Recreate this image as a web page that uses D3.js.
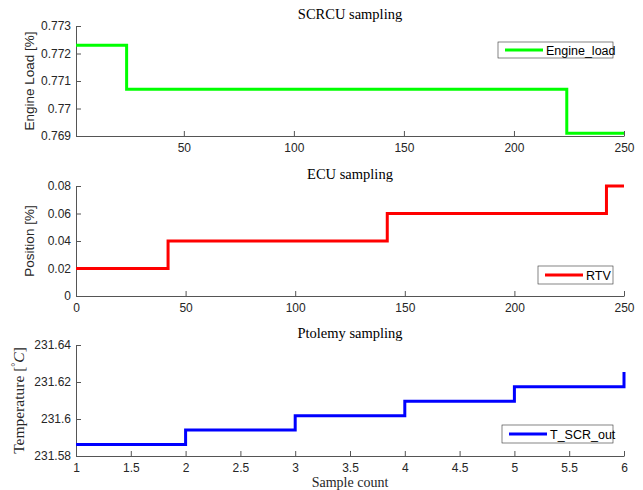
<!DOCTYPE html>
<html lang="en">
<head>
<meta charset="UTF-8">
<script src="https://cdn.jsdelivr.net/npm/d3@7"></script>
<title>Sampling</title>
<style>
    body { margin: 0; background: white; }
    .tick text { font-family: 'Liberation Sans', Arial, sans-serif; font-size: 12px; fill: #262626; }
    .domain, .tick line { stroke: #555; }
    .title { font-family: 'Liberation Serif', 'DejaVu Serif', serif; font-size: 14.5px; fill: #000; }
    .xlab { font-family: 'Liberation Serif', 'DejaVu Serif', serif; font-size: 14px; fill: #262626; }
    .ylab { font-family: 'Liberation Sans', Arial, sans-serif; font-size: 13.5px; fill: #262626; }
    .ylab-serif { font-family: 'Liberation Serif', serif; font-size: 15.5px; fill: #262626; }
    .legend text { font-family: 'Liberation Sans', Arial, sans-serif; font-size: 12.5px; fill: #000; }
</style>
</head>
<body>
<div id="chart"></div>
<script>
    // SCRCU sampling
    const engineX = [1, 24, 224, 250];
    const engineY = [0.7723, 0.7707, 0.7691, 0.7691];
    const engineTicksX = [50, 100, 150, 200, 250];
    const engineTicksY = [0.769, 0.77, 0.771, 0.772, 0.773];

    // ECU sampling
    const rtvX = [0, 42, 142, 242, 250];
    const rtvY = [0.02, 0.04, 0.06, 0.08, 0.08];
    const rtvTicksX = [0, 50, 100, 150, 200, 250];
    const rtvTicksY = [0, 0.02, 0.04, 0.06, 0.08];

    // Ptolemy sampling
    const tempX = [1, 2, 3, 4, 5, 6];
    const tempY = [231.5862, 231.594, 231.6018, 231.6096, 231.6174, 231.6254];
    const tempTicksX = [1, 1.5, 2, 2.5, 3, 3.5, 4, 4.5, 5, 5.5, 6];
    const tempTicksY = [231.58, 231.6, 231.62, 231.64];

    const width = 643, height = 490;
    const left = 76, right = 624;

    const svg = d3.select("#chart").append("svg")
        .attr("width", width)
        .attr("height", height);
    svg.append("rect").attr("width", width).attr("height", height).attr("fill", "white");

    const panels = [
        { title: "SCRCU sampling", top: 26, bottom: 136, xs: engineX, ys: engineY,
          xDom: [1, 250], yDom: [0.769, 0.773], tx: engineTicksX, ty: engineTicksY,
          color: "#00ff00", name: "Engine_load", ylab: "Engine Load [%]", legend: [498, 42, 115, 16] },
        { title: "ECU sampling", top: 186, bottom: 296, xs: rtvX, ys: rtvY,
          xDom: [0, 250], yDom: [0, 0.08], tx: rtvTicksX, ty: rtvTicksY,
          color: "#ff0000", name: "RTV", ylab: "Position [%]", legend: [538, 266, 75, 18] },
        { title: "Ptolemy sampling", top: 345, bottom: 456, xs: tempX, ys: tempY,
          xDom: [1, 6], yDom: [231.58, 231.64], tx: tempTicksX, ty: tempTicksY,
          color: "#0000ff", name: "T_SCR_out", ylab: null, legend: [502, 425, 111, 18] }
    ];

    panels.forEach((p, i) => {
        const x = d3.scaleLinear().domain(p.xDom).range([left, right]);
        const y = d3.scaleLinear().domain(p.yDom).range([p.bottom, p.top]);

        svg.append("g")
            .attr("transform", `translate(0,${p.bottom})`)
            .call(d3.axisBottom(x).tickValues(p.tx).tickSize(-5).tickSizeOuter(0).tickPadding(7)
                .tickFormat(d3.format("")));
        svg.append("g")
            .attr("transform", `translate(${left},0)`)
            .call(d3.axisLeft(y).tickValues(p.ty).tickSize(-5).tickSizeOuter(0).tickPadding(5)
                .tickFormat(d => +d.toFixed(4) + ""));

        const pts = p.xs.map((v, k) => [v, p.ys[k]]);
        svg.append("path")
            .datum(pts)
            .attr("fill", "none")
            .attr("stroke", p.color)
            .attr("stroke-width", 3)
            .attr("d", d3.line().x(d => x(d[0])).y(d => y(d[1])).curve(d3.curveStepAfter));

        svg.append("text").attr("class", "title")
            .attr("x", 350).attr("y", p.top - 7)
            .attr("text-anchor", "middle").text(p.title);

        const cy = (p.top + p.bottom) / 2;
        if (p.ylab) {
            svg.append("text").attr("class", "ylab")
                .attr("transform", `translate(34,${cy}) rotate(-90)`)
                .attr("text-anchor", "middle").text(p.ylab);
        } else {
            const t = svg.append("text").attr("class", "ylab-serif")
                .attr("transform", `translate(24,${cy}) rotate(-90)`)
                .attr("text-anchor", "middle");
            t.append("tspan").text("Temperature [");
            t.append("tspan").attr("font-size", "10px").attr("dy", -5).text("\u00b0");
            t.append("tspan").attr("font-style", "italic").attr("dy", 5).text("C");
            t.append("tspan").text("]");
        }

        const [lx, ly, lw, lh] = p.legend;
        const lg = svg.append("g").attr("class", "legend");
        lg.append("rect").attr("x", lx).attr("y", ly).attr("width", lw).attr("height", lh)
            .attr("fill", "white").attr("stroke", "#333").attr("stroke-width", 0.6);
        lg.append("line").attr("x1", lx + 7).attr("x2", lx + 45)
            .attr("y1", ly + lh / 2).attr("y2", ly + lh / 2)
            .attr("stroke", p.color).attr("stroke-width", 3);
        lg.append("text").attr("x", lx + 48).attr("y", ly + lh / 2 + 4.5).text(p.name);
    });

    svg.append("text").attr("class", "xlab")
        .attr("x", 350).attr("y", 487)
        .attr("text-anchor", "middle").text("Sample count");
</script>
</body>
</html>
